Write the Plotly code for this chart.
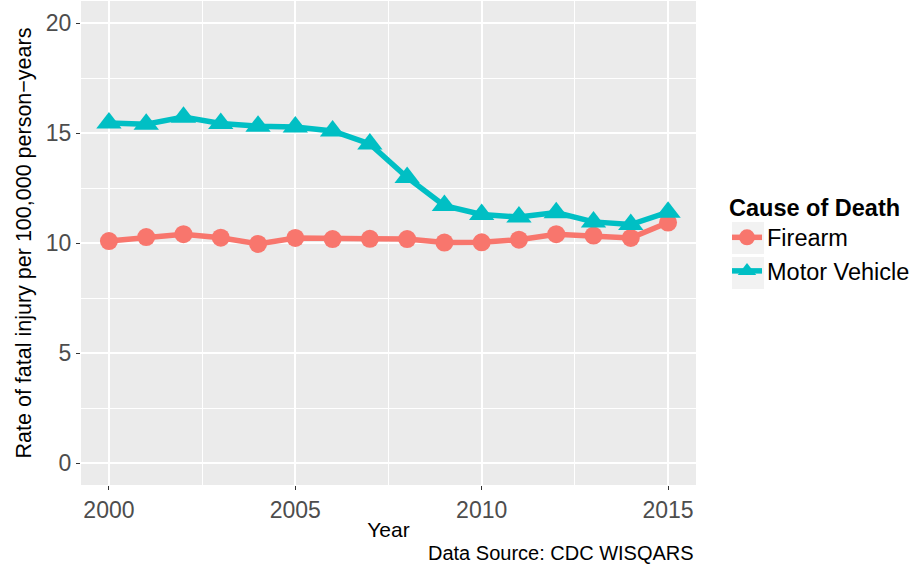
import plotly.graph_objects as go

years = list(range(2000, 2016))
firearm = [10.09, 10.27, 10.40, 10.24, 9.96, 10.23, 10.18, 10.19, 10.18, 10.02, 10.03, 10.15, 10.40, 10.34, 10.23, 10.93]
motor_vehicle = [15.45, 15.40, 15.72, 15.43, 15.31, 15.27, 15.09, 14.50, 12.98, 11.70, 11.30, 11.18, 11.38, 10.96, 10.84, 11.40]

series_names = ["Firearm", "Motor Vehicle"]
series_colors = ["#F8766D", "#00BFC4"]

FONT = "Liberation Sans, Arial, sans-serif"

fig = go.Figure()
fig.add_trace(go.Scatter(
    x=years, y=firearm, name=series_names[0], mode="lines+markers",
    line=dict(color=series_colors[0], width=5.5),
    marker=dict(symbol="circle", size=18, color=series_colors[0]),
))
fig.add_trace(go.Scatter(
    x=years, y=motor_vehicle, name=series_names[1], mode="lines+markers",
    line=dict(color=series_colors[1], width=5.5),
    marker=dict(symbol="triangle-up", size=22, color=series_colors[1]),
))

W, H = 915, 567
L, R, T, B = 81, 219, 1, 82
pw = W - L - R
ph = H - T - B

def px_to_paper_x(px):
    return (px - L) / pw

def px_to_paper_y(py):
    return 1 - (py - T) / ph

shapes = []
for (y0, y1) in [(222, 254), (257, 289)]:
    shapes.append(dict(type="rect", xref="paper", yref="paper",
                       x0=px_to_paper_x(732), x1=px_to_paper_x(764),
                       y0=px_to_paper_y(y1), y1=px_to_paper_y(y0),
                       fillcolor="#F2F2F2", line=dict(width=0), layer="below"))

fig.update_layout(
    width=W, height=H,
    margin=dict(l=L, r=R, t=T, b=B, pad=0, autoexpand=False),
    paper_bgcolor="white",
    plot_bgcolor="#EBEBEB",
    font=dict(family=FONT, color="black"),
    showlegend=True,
    legend=dict(
        title=dict(text="<b>Cause of Death</b>", font=dict(size=23.5, color="black")),
        font=dict(size=23.5, color="black"),
        x=px_to_paper_x(727), xanchor="left",
        y=px_to_paper_y(185), yanchor="top",
        bgcolor="rgba(0,0,0,0)",
        itemsizing="trace",
        tracegroupgap=0,
    ),
    xaxis=dict(
        range=[1999.25, 2015.75], automargin=False,
        tickmode="array", tickvals=[2000, 2005, 2010, 2015],
        ticktext=["2000", "2005", "2010", "2015"],
        showgrid=True, gridcolor="white", gridwidth=2,
        zeroline=False, showline=False,
        ticks="outside", ticklen=4, tickwidth=1.2, tickcolor="#333333",
        tickfont=dict(size=23, color="#4D4D4D"),
        title=dict(text="Year", font=dict(size=21, color="black"), standoff=0),
        minor=dict(tickmode="array", tickvals=[2002.5, 2007.5, 2012.5],
                   showgrid=True, gridcolor="white", gridwidth=1, ticks=""),
    ),
    yaxis=dict(
        range=[-1, 21], automargin=False,
        tickmode="array", tickvals=[0, 5, 10, 15, 20],
        showgrid=True, gridcolor="white", gridwidth=2,
        zeroline=False, showline=False,
        ticks="outside", ticklen=4, tickwidth=1.2, tickcolor="#333333",
        tickfont=dict(size=23, color="#4D4D4D"),
        title=dict(text="Rate of fatal injury per 100,000 person\u2212years",
                   font=dict(size=21.5, color="black"), standoff=8),
        minor=dict(tickmode="array", tickvals=[2.5, 7.5, 12.5, 17.5],
                   showgrid=True, gridcolor="white", gridwidth=1, ticks=""),
    ),
    shapes=shapes,
    annotations=[dict(
        text="Data Source: CDC WISQARS", xref="paper", yref="paper",
        x=1, xanchor="right", y=px_to_paper_y(553), yanchor="middle",
        showarrow=False, font=dict(size=20, color="black"),
    )],
)

fig.write_html("out.html", config={"displayModeBar": False},
               post_script="document.body.style.margin='0';document.body.style.padding='0';")
